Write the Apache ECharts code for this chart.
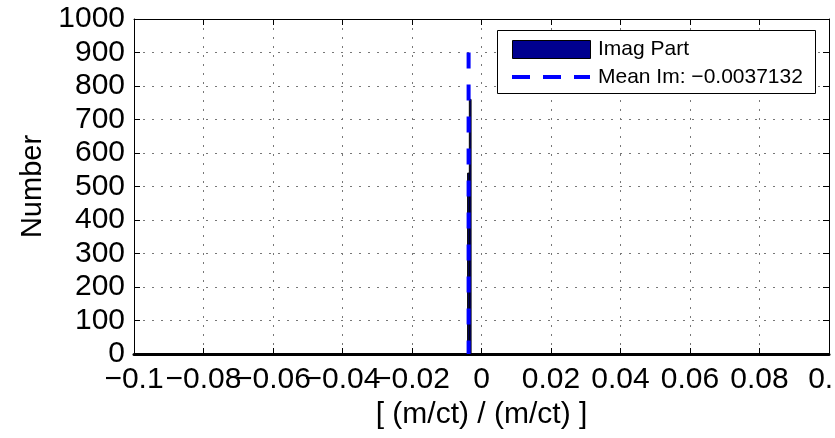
<!DOCTYPE html>
<html>
<head>
<meta charset="utf-8">
<script src="https://cdn.jsdelivr.net/npm/echarts@6/dist/echarts.min.js"></script>
<style>html,body{margin:0;padding:0;background:#fff;}#c{width:835px;height:438px;}</style>
</head>
<body>
<div id="c"></div>
<script>
// Histogram bins (imaginary part), edges and counts
var binLeft  = [-0.0040, -0.0035];
var binRight = [-0.0035, -0.0030];
var binCount = [540, 760];
// Mean line
var meanIm = -0.0037132;
var meanTop = 900;
// Axis ticks
var xMin = -0.1, xMax = 0.1, xStep = 0.02;
var yMin = 0, yMax = 1000, yStep = 100;
var seriesNames = ['Imag Part', 'Mean Im: \u22120.0037132'];
var xTitle = '[ (m/ct) / (m/ct) ]';
var yTitle = 'Number';

var FONT = "'Liberation Sans', Arial, Helvetica, sans-serif";
var barData = binLeft.map(function (l, i) { return [l, binRight[i], binCount[i]]; });

function fmtX(v) {
  var r = Math.round(v * 1000) / 1000;
  return String(r).replace('-', '\u2212');
}
function fmtY(v) { return String(Math.round(v)); }

var gridLine = { show: true, lineStyle: { color: '#777', width: 1, type: [2, 7] } };
var tickIn = { show: true, inside: true, length: 6, lineStyle: { color: '#000', width: 1 } };

var chart = echarts.init(document.getElementById('c'), null, { renderer: 'canvas' });
chart.setOption({
  animation: false,
  backgroundColor: '#fff',
  grid: { left: 134, right: 6, top: 19, bottom: 84, containLabel: false, outerBoundsMode: 'none' },
  xAxis: [{
    type: 'value', min: xMin, max: xMax, interval: xStep, position: 'bottom',
    name: xTitle, nameLocation: 'middle', nameGap: 44,
    nameTextStyle: { fontFamily: FONT, fontSize: 30, color: '#000' },
    axisLine: { show: true, onZero: false, lineStyle: { color: '#000', width: 3 } },
    axisTick: tickIn,
    axisLabel: { show: true, margin: 11, fontFamily: FONT, fontSize: 30, color: '#000', formatter: fmtX, showMinLabel: true, showMaxLabel: true, hideOverlap: false },
    splitLine: gridLine
  }, {
    type: 'value', min: xMin, max: xMax, interval: xStep, position: 'top',
    axisLine: { show: true, onZero: false, lineStyle: { color: '#000', width: 1 } },
    axisTick: tickIn, axisLabel: { show: false }, splitLine: { show: false }
  }],
  yAxis: [{
    type: 'value', min: yMin, max: yMax, interval: yStep, position: 'left',
    name: yTitle, nameLocation: 'middle', nameGap: 86, nameRotate: 90,
    nameTextStyle: { fontFamily: FONT, fontSize: 29, color: '#000' },
    axisLine: { show: true, onZero: false, lineStyle: { color: '#000', width: 1 } },
    axisTick: tickIn,
    axisLabel: { show: true, margin: 9, fontFamily: FONT, fontSize: 30, color: '#000', formatter: fmtY },
    splitLine: gridLine
  }, {
    type: 'value', min: yMin, max: yMax, interval: yStep, position: 'right',
    axisLine: { show: true, onZero: false, lineStyle: { color: '#000', width: 1 } },
    axisTick: tickIn, axisLabel: { show: false }, splitLine: { show: false }
  }],
  series: [{
    name: seriesNames[0],
    type: 'custom',
    xAxisIndex: 0, yAxisIndex: 0,
    data: barData,
    encode: { x: [0, 1], y: 2 },
    renderItem: function (params, api) {
      var p0 = api.coord([api.value(0), api.value(2)]);
      var p1 = api.coord([api.value(1), 0]);
      return {
        type: 'rect',
        shape: { x: p0[0], y: p0[1], width: p1[0] - p0[0], height: p1[1] - p0[1] },
        style: { fill: '#00008f', stroke: '#000', lineWidth: 1 }
      };
    },
    z: 2
  }, {
    name: seriesNames[1],
    type: 'line',
    xAxisIndex: 0, yAxisIndex: 0,
    data: [[meanIm, meanTop], [meanIm, 0]],
    showSymbol: false, symbol: 'none',
    lineStyle: { color: '#0000ff', width: 4, type: [16, 16], cap: 'butt' },
    z: 3
  }],
  graphic: [
    { type: 'rect', shape: { x: 497.5, y: 30.5, width: 318, height: 63 }, style: { fill: '#fff', stroke: '#000', lineWidth: 1 }, z: 10 },
    { type: 'rect', shape: { x: 512.5, y: 40.5, width: 78, height: 18 }, style: { fill: '#00008f', stroke: '#000', lineWidth: 1 }, z: 11 },
    { type: 'text', x: 598, y: 49, style: { text: seriesNames[0], fontFamily: FONT, fontSize: 21, fill: '#000', textVerticalAlign: 'middle', verticalAlign: 'middle' }, z: 11 },
    { type: 'line', shape: { x1: 512, y1: 77, x2: 590, y2: 77 }, style: { stroke: '#0000ff', lineWidth: 4, lineDash: [18, 13] }, z: 11 },
    { type: 'text', x: 598, y: 77, style: { text: seriesNames[1], fontFamily: FONT, fontSize: 21, fill: '#000', textVerticalAlign: 'middle', verticalAlign: 'middle' }, z: 11 }
  ]
});
</script>
</body>
</html>
